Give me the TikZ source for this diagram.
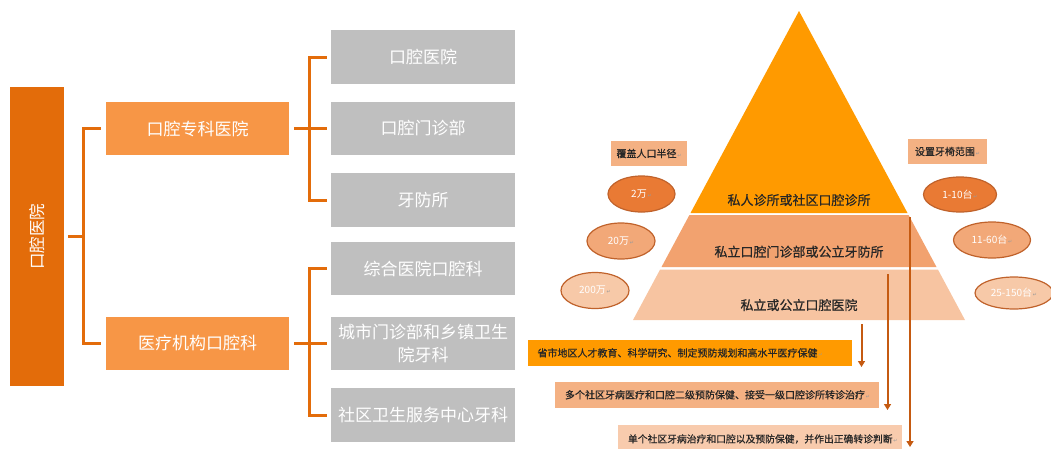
\documentclass[tikz,border=0pt]{standalone}
\usepackage{fontspec}
\usepackage{graphicx}
\setmainfont{Noto Sans CJK SC}
\newfontfamily\heavycjk[FakeBold=0.6]{Noto Sans CJK SC}
\newfontfamily\symfont{DejaVu Sans}
\usetikzlibrary{arrows.meta,positioning,shapes.geometric}

\definecolor{rootorange}{HTML}{E36C0A}
\definecolor{midorange}{HTML}{F79646}
\definecolor{leafgray}{HTML}{BFBFBF}
\definecolor{tiertop}{HTML}{FF9A00}
\definecolor{tiermid}{HTML}{F2A26F}
\definecolor{tierlow}{HTML}{F7C4A1}
\definecolor{arrowbrown}{HTML}{C55A11}
\definecolor{labelfill}{HTML}{F4B183}
\definecolor{barlight}{HTML}{F8CBAD}
\definecolor{textdark}{HTML}{262626}
\definecolor{markgray}{HTML}{9A9A9A}
\definecolor{ovaldark}{HTML}{E97A34}
\definecolor{ovalmid}{HTML}{F2A878}
\definecolor{ovallight}{HTML}{F7C9A8}
\definecolor{ovalline}{HTML}{C0622B}

\newcommand{\pmark}{{\symfont\fontsize{5}{5}\selectfont\color{markgray}\,↵}}

\begin{document}
\begin{tikzpicture}[x=1pt, y=-1pt,
	rootbox/.style={fill=rootorange, minimum width=54pt, minimum height=299pt, inner sep=0pt, text=white, font=\fontsize{16.5}{18}\selectfont},
	midbox/.style={fill=midorange, minimum width=183pt, minimum height=53pt, inner sep=0pt, text=white, font=\fontsize{17}{20}\selectfont},
	leafbox/.style={fill=leafgray, minimum width=184pt, minimum height=53.5pt, inner sep=0pt, text=white, text width=184pt, align=center, font=\fontsize{17}{22.5}\selectfont},
	conn/.style={draw=rootorange, line width=3pt},
	tiertext/.style={text=textdark, inner sep=0pt, font=\heavycjk\fontsize{13}{15}\selectfont},
	tag/.style={fill=labelfill, text=textdark, inner sep=0pt, font=\heavycjk\fontsize{10}{12}\selectfont},
	oval/.style={ellipse, draw=ovalline, line width=1.2pt, inner sep=0pt, text=white, font=\fontsize{10}{12}\selectfont},
	bar/.style={inner xsep=10pt, inner ysep=0pt, align=left, text=textdark, font=\heavycjk\fontsize{10}{12}\selectfont},
	arr/.style={draw=arrowbrown, line width=2pt, -{Triangle[length=6pt,width=7pt]}}
]
	\useasboundingbox (0,0) rectangle (1051,448);

	\node[rootbox] (root) at (37,236.5) {\rotatebox{90}{口腔医院}};
	\node[midbox] (zk) at (197.5,128.5) {口腔专科医院};
	\node[midbox] (yl) at (197.5,343.5) {医疗机构口腔科};

	\node[leafbox] (kq) at (423,57) {口腔医院};
	\node[leafbox] (mz) at (423,128.5) {口腔门诊部};
	\node[leafbox] (yf) at (423,200) {牙防所};
	\node[leafbox] (zh) at (423,268.5) {综合医院口腔科};
	\node[leafbox] (cs) at (423,343.5) {城市门诊部和乡镇卫生\\院牙科};
	\node[leafbox] (sq) at (423,415) {社区卫生服务中心牙科};

	\draw[conn] ([xshift=4pt]root.east) -- ++(16,0);
	\draw[conn] ([xshift=-5pt]zk.west) -- ++(-17,0) |- ([xshift=-5pt]yl.west);
	\draw[conn] ([xshift=5pt]zk.east) -- ([xshift=-4pt]mz.west);
	\draw[conn] ([xshift=-4pt]kq.west) -- ++(-17,0) |- ([xshift=-4pt]yf.west);
	\draw[conn] ([xshift=5pt]yl.east) -- ([xshift=-4pt]cs.west);
	\draw[conn] ([xshift=-4pt]zh.west) -- ++(-17,0) |- ([xshift=-4pt]sq.west);

	\fill[tiertop] (799,11) -- (690.5,213) -- (907.5,213) -- cycle;
	\fill[tiermid] (689.4,215) -- (908.6,215) -- (936.5,267) -- (661.5,267) -- cycle;
	\fill[tierlow] (660.1,269.5) -- (937.9,269.5) -- (965,320) -- (633,320) -- cycle;

	\node[tiertext] (t1) at (799,200) {私人诊所或社区口腔诊所};
	\node[tiertext] (t2) at (799,251.7) {私立口腔门诊部或公立牙防所};
	\node[tiertext] (t3) at (799,305) {私立或公立口腔医院};

	\node[tag, minimum width=76pt, minimum height=25pt] (fg) at (649,153.5) {覆盖人口半径\pmark};
	\node[tag, minimum width=79pt, minimum height=25pt] (sz) at (947.5,151.5) {设置牙椅范围\pmark};

	\node[oval, fill=ovaldark, minimum width=67pt, minimum height=36pt] (r1) at (641.5,194) {2万\pmark};
	\node[oval, fill=ovalmid, minimum width=68pt, minimum height=36pt] (r2) at (621,241) {20万\pmark};
	\node[oval, fill=ovallight, minimum width=68pt, minimum height=36pt] (r3) at (595,290.5) {200万\pmark};
	\node[oval, fill=ovaldark, minimum width=73pt, minimum height=35pt] (c1) at (960,194.5) {1-10台\pmark};
	\node[oval, fill=ovalmid, minimum width=77pt, minimum height=36pt] (c2) at (992,240) {11-60台\pmark};
	\node[oval, fill=ovallight, minimum width=78pt, minimum height=32pt] (c3) at (1014,293) {25-150台\pmark};

	\node[bar, fill=tiertop, text width=304.5pt, minimum height=26pt] (b1) at (689.75,352.85) {\mbox{省市地区人才教育、科学研究、制定预防规划和高水平医疗保健\pmark}};
	\node[bar, fill=labelfill, text width=304pt, minimum height=25.5pt] (b2) at (717,394.75) {\mbox{多个社区牙病医疗和口腔二级预防保健、接受一级口腔诊所转诊治疗\pmark}};
	\node[bar, fill=barlight, text width=264pt, minimum height=28pt, font=\heavycjk\fontsize{9.8}{12}\selectfont] (b3) at (760,439) {\mbox{单个社区牙病治疗和口腔以及预防保健，并作出正确转诊判断\pmark}};

	\coordinate (s1) at (861.5,324);
	\coordinate (e1) at (861.5,367);
	\coordinate (s2) at (887.5,274);
	\coordinate (e2) at (887.5,410);
	\coordinate (s3) at (910,217);
	\coordinate (e3) at (910,447);
	\draw[arr] (s1) -- (e1);
	\draw[arr] (s2) -- (e2);
	\draw[arr] (s3) -- (e3);
\end{tikzpicture}
\end{document}
